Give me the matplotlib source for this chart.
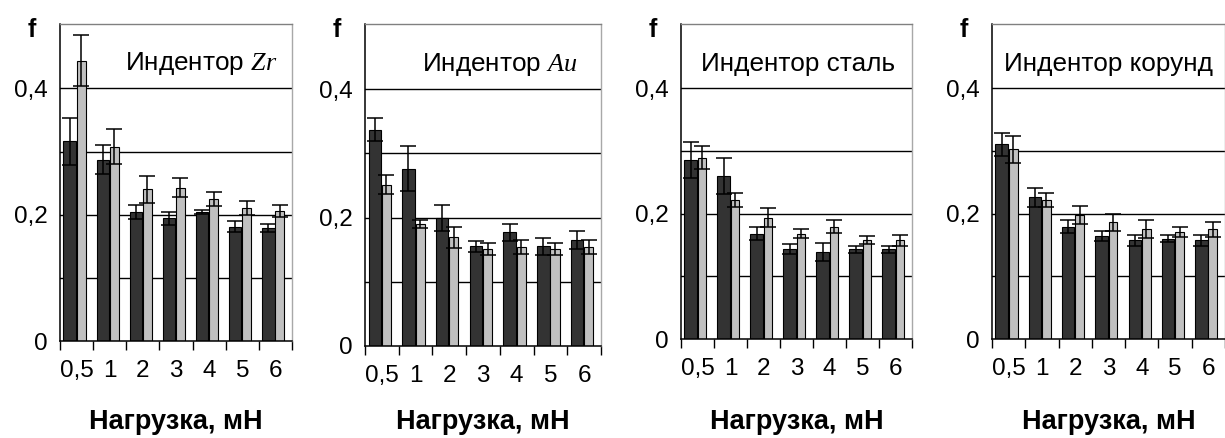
import numpy as np
import matplotlib
matplotlib.use("Agg")
import matplotlib.pyplot as plt
from matplotlib.ticker import FixedLocator, NullFormatter

plt.rcParams['font.family'] = ['Liberation Sans', 'DejaVu Sans']
plt.rcParams['mathtext.fontset'] = 'custom'
plt.rcParams['mathtext.it'] = 'Liberation Serif:italic'
plt.rcParams['mathtext.rm'] = 'Liberation Sans'

# loads, mN
loads = ['0,5', '1', '2', '3', '4', '5', '6']

# friction coefficient, dark series / light series, with error
zr_dark = [0.316, 0.287, 0.204, 0.194, 0.204, 0.181, 0.179]
zr_dark_err = [0.037, 0.023, 0.011, 0.010, 0.003, 0.009, 0.006]
zr_light = [0.444, 0.308, 0.240, 0.243, 0.225, 0.210, 0.206]
zr_light_err = [0.040, 0.027, 0.022, 0.015, 0.011, 0.011, 0.010]

au_dark = [0.337, 0.276, 0.199, 0.155, 0.177, 0.155, 0.165]
au_dark_err = [0.018, 0.035, 0.020, 0.009, 0.013, 0.013, 0.014]
au_light = [0.251, 0.190, 0.169, 0.151, 0.154, 0.151, 0.154]
au_light_err = [0.015, 0.006, 0.017, 0.010, 0.011, 0.010, 0.011]

steel_dark = [0.285, 0.260, 0.168, 0.143, 0.139, 0.143, 0.143]
steel_dark_err = [0.029, 0.029, 0.011, 0.008, 0.014, 0.006, 0.006]
steel_light = [0.289, 0.222, 0.193, 0.168, 0.179, 0.158, 0.157]
steel_light_err = [0.018, 0.011, 0.015, 0.007, 0.010, 0.006, 0.008]

cor_dark = [0.310, 0.226, 0.179, 0.164, 0.157, 0.160, 0.157]
cor_dark_err = [0.018, 0.015, 0.010, 0.008, 0.008, 0.006, 0.008]
cor_light = [0.302, 0.222, 0.198, 0.186, 0.175, 0.171, 0.175]
cor_light_err = [0.022, 0.011, 0.014, 0.014, 0.014, 0.008, 0.012]

titles = ['Индентор $Zr$', 'Индентор $Au$', 'Индентор сталь', 'Индентор корунд']
panels = [
    (zr_dark, zr_dark_err, zr_light, zr_light_err),
    (au_dark, au_dark_err, au_light, au_light_err),
    (steel_dark, steel_dark_err, steel_light, steel_light_err),
    (cor_dark, cor_dark_err, cor_light, cor_light_err),
]

W, H = 1225, 438
# axes boxes in pixels: left, right, top, bottom(y=0)
boxes = [(60, 292, 24, 341), (365, 601, 24, 345.7), (681, 912, 24, 339), (992, 1225, 24, 339)]
title_x = [0.61, 0.57, 0.505, 0.50]

fig = plt.figure(figsize=(W / 100, H / 100), dpi=100)

x = np.arange(len(loads))
for k, (dark, dark_err, light, light_err) in enumerate(panels):
    l, r, t, b = boxes[k]
    ax = fig.add_axes([l / W, 1 - b / H, (r - l) / W, (b - t) / H])
    ax.set_axisbelow(True)
    for g in [0.1, 0.2, 0.3, 0.4]:
        ax.axhline(g, color='black', lw=1.0, zorder=0)

    ax.bar(x + 0.29, dark, width=0.37, color='#333333', edgecolor='black', lw=0.8, zorder=2)
    ax.bar(x + 0.635, light, width=0.27, color='#c0c0c0', edgecolor='black', lw=0.8, zorder=2)
    ax.errorbar(x + 0.29, dark, yerr=dark_err, fmt='none', ecolor='black',
                elinewidth=1.1, capsize=5.5, capthick=1.1, zorder=3)
    ax.errorbar(x + 0.635, light, yerr=light_err, fmt='none', ecolor='black',
                elinewidth=1.1, capsize=5.5, capthick=1.1, zorder=3)

    ax.set_xlim(0, len(loads))
    ax.set_ylim(0, 0.502)

    ax.xaxis.set_major_locator(FixedLocator(x + 0.5))
    ax.set_xticklabels(loads)
    ax.xaxis.set_minor_locator(FixedLocator(np.arange(len(loads) + 1)))
    ax.xaxis.set_minor_formatter(NullFormatter())
    ax.tick_params(axis='x', which='major', length=0, pad=14, labelsize=17.5)
    ax.tick_params(axis='x', which='minor', length=6.5, width=1.0, direction='out', color='black')

    ax.set_yticks([0, 0.2, 0.4])
    ax.set_yticklabels(['0', '0,2', '0,4'])
    ax.tick_params(axis='y', length=0, pad=9, labelsize=17.5)

    for s in ['left', 'bottom']:
        ax.spines[s].set_color('black')
        ax.spines[s].set_linewidth(1.1)
    ax.spines['top'].set_color('#808080')
    ax.spines['right'].set_color('#a8a8a8')
    ax.spines['top'].set_linewidth(1.0)
    ax.spines['right'].set_linewidth(1.0)

    ax.text(title_x[k], 0.874, titles[k], transform=ax.transAxes,
            ha='center', va='center', fontsize=18.8)

    ax.set_xlabel('Нагрузка, мН', fontsize=19.5, fontweight='bold', va='center')
    ax.xaxis.set_label_coords(0.5, -(421.7 - b) / (b - t))
    ax.set_ylabel('f', rotation=0, fontsize=18, fontweight='bold', va='center', ha='center')
    ax.yaxis.set_label_coords(-28 / (r - l), 1 - 6 / (b - t))

fig.savefig('out.png', dpi=100)
